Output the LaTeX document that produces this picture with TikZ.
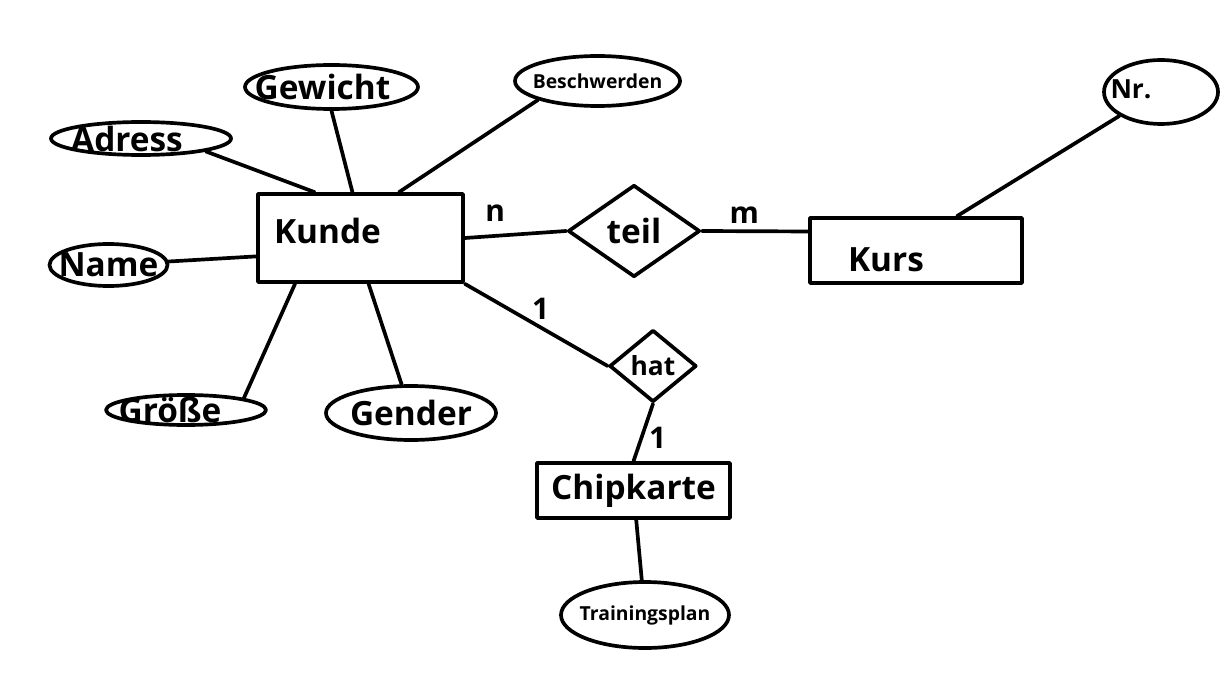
\documentclass[tikz,border=0pt]{standalone}
\usepackage{fontspec}
\setmainfont{Open Sans}
\usetikzlibrary{shapes.geometric, positioning}

\begin{document}
\begin{tikzpicture}[
    line width=2.1pt, line cap=round, line join=round,
    every node/.style={font=\fontsize{19}{22}\selectfont\bfseries},
    entity/.style={rectangle, draw, minimum height=1.1cm},
    attr/.style={ellipse, draw, inner sep=0pt},
    rel/.style={diamond, draw, inner sep=0pt},
    card/.style={font=\fontsize{17}{20}\selectfont\bfseries},
    small/.style={font=\fontsize{11}{13}\selectfont\bfseries}
]
\useasboundingbox (0,0) rectangle (24.52,13.56);

% Entities
\node (kunde) [entity, text width=3.46cm, inner xsep=0.32cm, minimum height=1.76cm, text depth=0.3cm, align=left] at (7.21,8.80) {Kunde};
\node (kurs) [entity, text width=2.72cm, inner xsep=0.76cm, minimum height=1.3cm, text height=0.85cm, align=left] at (18.32,8.55) {Kurs};
\node (chipkarte) [entity, minimum width=3.86cm] at (12.67,3.75) {Chipkarte};

% Relationships
\node (teil) [rel, minimum width=2.64cm, minimum height=1.84cm] at (12.68,8.94) {teil};
\node (hat) [rel, minimum width=1.74cm, minimum height=1.44cm, font=\fontsize{15}{18}\selectfont\bfseries] at (13.06,6.24) {hat};

% Attributes
\node (gewicht) [attr, minimum width=3.46cm, minimum height=0.88cm, label={[xshift=-0.18cm]center:Gewicht}] at (6.63,11.82) {};
\node (adress) [attr, minimum width=3.6cm, minimum height=0.66cm, label={[xshift=-0.28cm]center:Adress}] at (2.82,10.79) {};
\node (beschwerden) [attr, minimum width=3.3cm, minimum height=1.0cm, label={[small]center:Beschwerden}] at (11.95,11.94) {};
\node (name) [attr, minimum width=2.36cm, minimum height=0.84cm, label={center:Name}] at (2.17,8.26) {};
\node (groesse) [attr, minimum width=3.2cm, minimum height=0.6cm, label={[xshift=-0.32cm]center:Größe}] at (3.72,5.36) {};
\node (gender) [attr, minimum width=3.4cm, minimum height=1.08cm, label={center:Gender}] at (8.22,5.30) {};
\node (nr) [attr, minimum width=2.28cm, minimum height=1.28cm, label={[xshift=-0.6cm, yshift=0.06cm, font=\fontsize{15}{18}\selectfont\bfseries]center:Nr.}] at (23.22,11.72) {};
\node (trainingsplan) [attr, minimum width=3.36cm, minimum height=1.32cm, label={[small]center:Trainingsplan}] at (12.9,1.26) {};

% Attribute links
\draw (adress.south east) -- (kunde.135);
\draw (gewicht.south) -- (kunde.100);
\draw (beschwerden.south west) -- (kunde.50);
\draw (name) -- (kunde.190);
\draw (groesse.north east) -- (kunde.215);
\draw (gender) -- (kunde.280);
\draw (chipkarte) -- (trainingsplan);
\draw (nr.south west) -- (kurs.40);

% Relationship links
\draw (kunde.east) -- node[card, above, pos=0.3, yshift=4pt] {n} (teil.west);
\draw (teil.east) -- node[card, above, pos=0.4] {m} (kurs.170);
\draw (kunde.south east) -- node[card, above, pos=0.53] {1} (hat.west);
\draw (hat.south) -- node[card, right, pos=0.6] {1} (chipkarte.north);

\end{tikzpicture}
\end{document}
